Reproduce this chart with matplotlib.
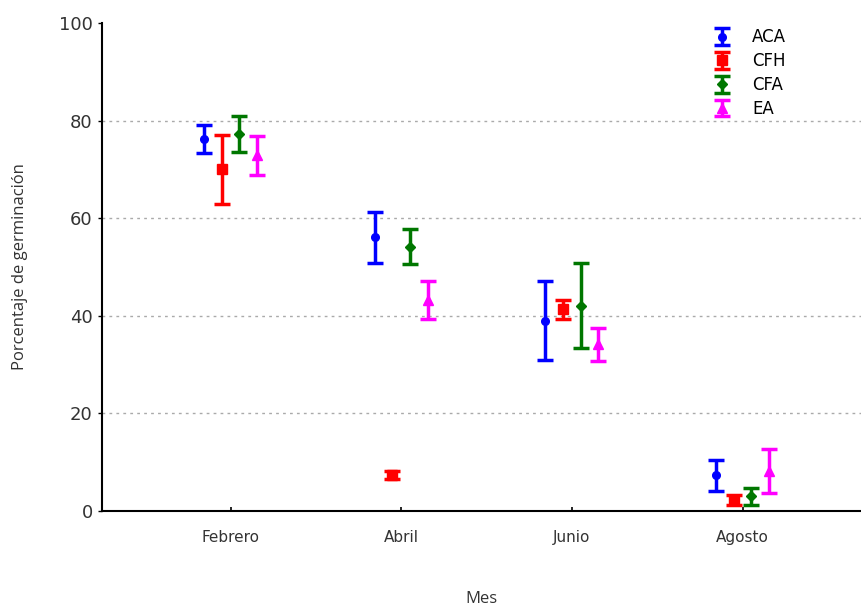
import matplotlib

matplotlib.use("Agg")

import matplotlib.pyplot as plt
import numpy as np

# months on the x axis
meses = ["Febrero", "Abril", "Junio", "Agosto"]

# mean germination (%) and half-width of error bar, per treatment
aca_mean = [76.2, 56.1, 39.0, 7.3]
aca_err = [2.9, 5.2, 8.1, 3.2]
cfh_mean = [70.0, 7.3, 41.3, 2.2]
cfh_err = [7.1, 0.8, 2.0, 1.0]
cfa_mean = [77.3, 54.2, 42.1, 3.0]
cfa_err = [3.7, 3.5, 8.7, 1.8]
ea_mean = [72.9, 43.2, 34.2, 8.2]
ea_err = [4.0, 3.9, 3.4, 4.5]

series = [
    ("ACA", aca_mean, aca_err, "#0000ff", "o", 5.5),
    ("CFH", cfh_mean, cfh_err, "#ff0000", "s", 6.5),
    ("CFA", cfa_mean, cfa_err, "#007700", "D", 5),
    ("EA", ea_mean, ea_err, "#ff00ff", "^", 6.5),
]
offsets = [-0.155, -0.052, 0.052, 0.155]

fig = plt.figure(figsize=(8.62, 6.09), dpi=100)
ax = fig.add_axes([0.118, 0.161, 0.882, 0.801])

x = np.arange(1, len(meses) + 1)
for (name, mean, err, col, mk, ms), off in zip(series, offsets):
    ax.errorbar(
        x + off, mean, yerr=err, fmt=mk, color=col, ms=ms,
        elinewidth=2.5, capsize=6, capthick=2.5, label=name,
    )

ax.set_xlim(0.245, 4.7)
ax.set_ylim(0, 100)
ax.set_xticks(x)
ax.set_xticklabels(meses, fontsize=11, color="#333333")
ax.set_yticks([0, 20, 40, 60, 80, 100])
ax.tick_params(axis="y", labelsize=13, labelcolor="#333333", length=3, width=1)
ax.tick_params(axis="x", direction="in", length=3, width=1.2, pad=14)

for v in [20, 40, 60, 80]:
    ax.axhline(v, color="#aaaaaa", linestyle=(0, (2, 3)), linewidth=1, zorder=0)

for s in ["top", "right"]:
    ax.spines[s].set_visible(False)
ax.spines["left"].set_linewidth(1.5)
ax.spines["bottom"].set_linewidth(1.5)

ax.set_xlabel("Mes", fontsize=12, family="Open Sans", color="#333333", labelpad=33)
ax.set_ylabel("Porcentaje de germinación", fontsize=12, family="Open Sans",
              color="#333333", labelpad=22)

ax.legend(loc="upper right", bbox_to_anchor=(0.92, 1.02), frameon=False,
          fontsize=12, handlelength=2.4, labelspacing=0.35, handletextpad=0.6)

fig.savefig("out.png", dpi=100)
